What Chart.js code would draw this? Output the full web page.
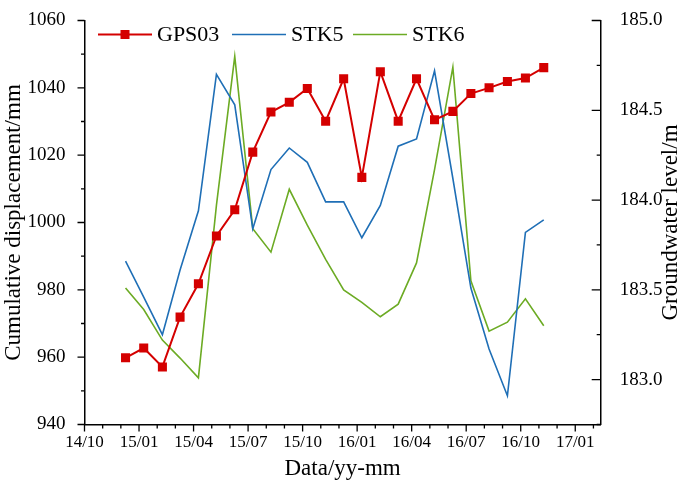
<!DOCTYPE html>
<html>
<head>
<meta charset="utf-8">
<script src="https://cdn.jsdelivr.net/npm/chart.js@4/dist/chart.umd.min.js"></script>
<style>
  html, body { margin: 0; padding: 0; background: #fff; }
</style>
</head>
<body>
<canvas id="chart" width="685" height="494"></canvas>
<script>
// monthly readings
const dates = [
  '2014-12-09', '2015-01-09', '2015-02-09', '2015-03-09', '2015-04-09', '2015-05-09',
  '2015-06-09', '2015-07-09', '2015-08-09', '2015-09-09', '2015-10-09', '2015-11-09',
  '2015-12-09', '2016-01-09', '2016-02-09', '2016-03-09', '2016-04-09', '2016-05-09',
  '2016-06-09', '2016-07-09', '2016-08-09', '2016-09-09', '2016-10-09', '2016-11-09'
];
// cumulative displacement, mm (left axis)
const gps03 = [
  959.8, 962.7, 957.1, 971.9, 981.8, 996.0, 1003.8, 1020.9, 1032.8, 1035.7, 1039.8, 1030.1,
  1042.7, 1013.4, 1044.8, 1030.1, 1042.7, 1030.5, 1033.0, 1038.3, 1040.0, 1041.9, 1042.9, 1046.0
];
// groundwater level, m (right axis)
const stk5 = [
  183.66, 183.46, 183.25, 183.61, 183.94, 184.70, 184.53, 183.84, 184.17, 184.29, 184.21, 183.99,
  183.99, 183.79, 183.97, 184.30, 184.34, 184.72, 184.12, 183.51, 183.17, 182.91, 183.82, 183.89
];
const stk6 = [
  183.51, 183.39, 183.22, 183.12, 183.01, 183.97, 184.80, 183.84, 183.71, 184.06, 183.86, 183.67,
  183.50, 183.43, 183.35, 183.42, 183.65, 184.17, 184.74, 183.55, 183.27, 183.32, 183.45, 183.30
];
const xTickLabels = ['14/10', '15/01', '15/04', '15/07', '15/10', '16/01', '16/04', '16/07', '16/10', '17/01'];
const seriesNames = ['GPS03', 'STK5', 'STK6'];
const colors = ['#d40000', '#1f6fb6', '#6cab24'];

const FONT = "'Liberation Serif', 'Times New Roman', serif";

// months since 2014/10
const toMonths = s => {
  const [y, m, d] = s.split('-').map(Number);
  const dim = new Date(y, m, 0).getDate();
  return (y - 2014) * 12 + (m - 10) + (d - 1) / dim;
};
const pts = arr => arr.map((v, i) => ({ x: toMonths(dates[i]), y: v }));
const isHalf = v => Math.abs(v * 2 - Math.round(v * 2)) < 1e-6;

// origin-style tick marks (major + minor), right title and legend
const decor = {
  id: 'decor',
  afterDraw(chart) {
    const { ctx, chartArea: a, scales } = chart;
    ctx.save();
    ctx.strokeStyle = '#000';
    ctx.lineWidth = 1.3;
    ctx.beginPath();
    scales.x.ticks.forEach(t => {
      const px = scales.x.getPixelForValue(t.value);
      const len = Math.round(t.value) % 3 === 0 ? 7 : 4;
      ctx.moveTo(px, a.bottom); ctx.lineTo(px, a.bottom + len);
    });
    scales.y.ticks.forEach(t => {
      const py = scales.y.getPixelForValue(t.value);
      const len = Math.round(t.value) % 20 === 0 ? 7 : 3.5;
      ctx.moveTo(a.left, py); ctx.lineTo(a.left - len, py);
    });
    scales.y1.ticks.forEach(t => {
      const py = scales.y1.getPixelForValue(t.value);
      const len = isHalf(t.value) ? 9 : 4;
      ctx.moveTo(a.right, py); ctx.lineTo(a.right - len, py);
    });
    ctx.stroke();

    // right axis title, reads bottom to top
    ctx.fillStyle = '#000';
    ctx.font = '23px ' + FONT;
    ctx.textAlign = 'center';
    ctx.textBaseline = 'middle';
    ctx.translate(671, (a.top + a.bottom) / 2);
    ctx.rotate(-Math.PI / 2);
    ctx.fillText('Groundwater level/m', 0, 0);
    ctx.restore();

    // legend
    ctx.save();
    const ly = a.top + 14;
    const starts = [a.left + 13.5, a.left + 147.5, a.left + 268.5];
    ctx.font = '22px ' + FONT;
    ctx.textBaseline = 'middle';
    ctx.textAlign = 'left';
    chart.data.datasets.forEach((ds, i) => {
      const x0 = starts[i];
      ctx.strokeStyle = ds.borderColor;
      ctx.lineWidth = ds.borderWidth;
      ctx.beginPath();
      ctx.moveTo(x0, ly); ctx.lineTo(x0 + 54, ly);
      ctx.stroke();
      if (ds.pointRadius > 0) {
        ctx.fillStyle = ds.pointBackgroundColor;
        ctx.fillRect(x0 + 27 - 4.5, ly - 4.5, 9, 9);
      }
      ctx.fillStyle = '#000';
      ctx.fillText(ds.label, x0 + 59, ly + 1);
    });
    ctx.restore();
  }
};

new Chart(document.getElementById('chart'), {
  type: 'line',
  data: {
    datasets: [
      {
        label: seriesNames[0], data: pts(gps03), yAxisID: 'y',
        borderColor: colors[0], borderWidth: 2,
        pointStyle: 'rect', pointRadius: 6.4, pointBackgroundColor: colors[0],
        pointBorderColor: colors[0], pointBorderWidth: 0
      },
      {
        label: seriesNames[1], data: pts(stk5), yAxisID: 'y1',
        borderColor: colors[1], borderWidth: 1.6, pointRadius: 0
      },
      {
        label: seriesNames[2], data: pts(stk6), yAxisID: 'y1',
        borderColor: colors[2], borderWidth: 1.6, pointRadius: 0
      }
    ]
  },
  options: {
    responsive: false,
    animation: false,
    layout: { padding: { top: 10.5, left: 0, right: 0, bottom: 0 } },
    plugins: { legend: { display: false }, tooltip: { enabled: false } },
    elements: { line: { tension: 0 } },
    scales: {
      x: {
        type: 'linear', min: 0, max: 28.4,
        grid: { display: false },
        border: { display: true, color: '#000', width: 1.5 },
        ticks: {
          stepSize: 1, includeBounds: false, autoSkip: false, maxRotation: 0, padding: 2,
          color: '#000', font: { family: FONT, size: 17, lineHeight: 1 },
          callback: v => (Math.round(v) % 3 === 0 ? xTickLabels[Math.round(v) / 3] : '')
        },
        title: {
          display: true, text: 'Data/yy-mm', color: '#000',
          font: { family: FONT, size: 23 }, padding: { top: 0, bottom: 11 }
        },
        afterFit: s => { s.height = 69.5; }
      },
      y: {
        position: 'left', min: 940, max: 1060,
        grid: { display: false },
        border: { display: true, color: '#000', width: 1.5 },
        ticks: {
          stepSize: 10, padding: 11, color: '#000',
          font: { family: FONT, size: 19, lineHeight: 1 },
          callback: v => (Math.round(v) % 20 === 0 ? String(v) : '')
        },
        title: {
          display: true, text: 'Cumulative displacement/mm', color: '#000',
          font: { family: FONT, size: 23 }, padding: { top: 0, bottom: 0 }
        },
        afterFit: s => { s.width = 84.5; }
      },
      y1: {
        position: 'right', min: 182.75, max: 185,
        grid: { display: false },
        border: { display: true, color: '#000', width: 1.5 },
        ticks: {
          stepSize: 0.25, padding: 11, color: '#000',
          font: { family: FONT, size: 19, lineHeight: 1 },
          callback: v => (isHalf(v) ? v.toFixed(1) : '')
        },
        title: { display: false },
        afterFit: s => { s.width = 84.3; }
      }
    }
  },
  plugins: [decor]
});
</script>
</body>
</html>
